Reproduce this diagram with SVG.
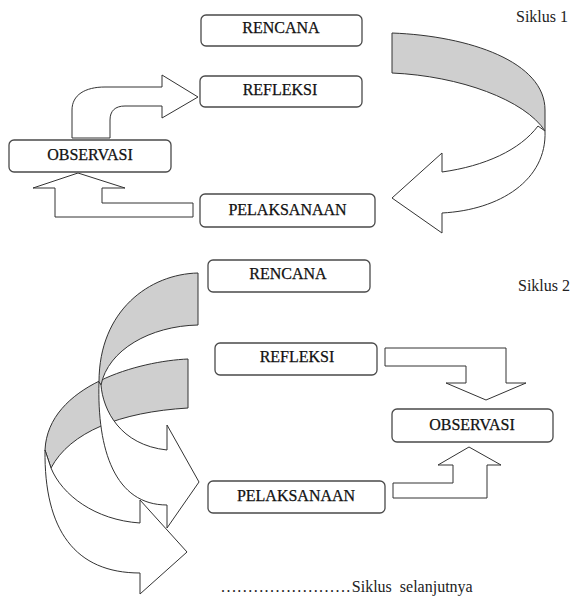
<svg xmlns="http://www.w3.org/2000/svg" width="570" height="599" viewBox="0 0 570 599">
<style>
.box{fill:#fff;stroke:#4a4a4a;stroke-width:1.3}
.lbl{font-family:"Liberation Serif","Times New Roman",serif;font-size:16px;fill:#111;stroke:#111;stroke-width:0.25;text-anchor:middle}
.cap{font-family:"Liberation Serif","Times New Roman",serif;font-size:16px;fill:#222}
.arw{fill:#fff;stroke:#333;stroke-width:1;stroke-linejoin:miter}
.back{fill:#cfcfcf;stroke:#333;stroke-width:1}
</style>
<rect width="570" height="599" fill="#fff"/>
<g id="connectors">
  <path class="back" d="M392,33 C470,36 545,62 545,110 L545,131 C525,100 460,76 392,73 Z"/>
  <path class="arw" d="M545,131 C547,180 500,210 442,213 L442,233 L392,198 L442,153 L442,172 C485,166 520,150 538,126 Z"/>
  <path class="arw" d="M193,203 L102,203 L102,188 L125,188 L78,173 L33,188 L55,188 L55,217 L193,217 Z"/>
  <path class="arw" d="M72,138 L72,110 C72,95 85,87 105,87 L162,87 L162,75 L198,97 L162,118 L162,106 L125,106 C115,106 110,111 110,120 L110,138 Z"/>
  <path class="back" d="M188,359 C140,361 48,385 45,450 L51,468 C70,432 120,412 188,408 Z"/>
  <path class="arw" d="M45,450 C44,530 75,573 140,573 L140,594 L187,552 L140,500 L140,523 C95,520 62,495 51,468 Z"/>
  <path class="back" d="M198,273 C150,274 99,310 99,382 L101,385 C108,350 150,326 198,325 Z"/>
  <path class="arw" d="M99,382 C97,450 115,505 167,505 L167,528 L199,482 L167,425 L167,450 C120,445 103,410 101,385 Z"/>
  <path class="arw" d="M385,348 L506,348 L506,383 L526,383 L486,400 L446,383 L466,383 L466,366 L385,366 Z"/>
  <path class="arw" d="M393,498 L487,498 L487,465 L501,465 L469,447 L438,465 L453,465 L453,483 L393,483 Z"/>
</g>
<g id="rencana1"><rect class="box" x="201" y="15" width="161" height="31" rx="5"/><text class="lbl" x="281" y="32.5">RENCANA</text></g>
<g id="refleksi1"><rect class="box" x="200" y="76" width="162" height="31" rx="5"/><text class="lbl" x="280" y="95">REFLEKSI</text></g>
<g id="observasi1"><rect class="box" x="9" y="140" width="162" height="32" rx="5"/><text class="lbl" x="90" y="160">OBSERVASI</text></g>
<g id="pelaksanaan1"><rect class="box" x="200" y="194" width="175" height="33" rx="5"/><text class="lbl" x="287.5" y="215">PELAKSANAAN</text></g>
<g id="siklus1"><text class="cap" x="516" y="22">Siklus 1</text></g>
<g id="rencana2"><rect class="box" x="208" y="260" width="162" height="32" rx="5"/><text class="lbl" x="288" y="279">RENCANA</text></g>
<g id="refleksi2"><rect class="box" x="215" y="343" width="162" height="32" rx="5"/><text class="lbl" x="297" y="361.5">REFLEKSI</text></g>
<g id="observasi2"><rect class="box" x="392" y="409" width="161" height="33" rx="5"/><text class="lbl" x="472" y="430">OBSERVASI</text></g>
<g id="pelaksanaan2"><rect class="box" x="208" y="481" width="177" height="32" rx="5"/><text class="lbl" x="296" y="500.5">PELAKSANAAN</text></g>
<g id="siklus2"><text class="cap" x="518" y="291">Siklus 2</text></g>
<g id="next"><text class="cap" x="221" y="592"><tspan letter-spacing="1.45">........................</tspan><tspan>Siklus&#160; selanjutnya</tspan></text></g>
</svg>
